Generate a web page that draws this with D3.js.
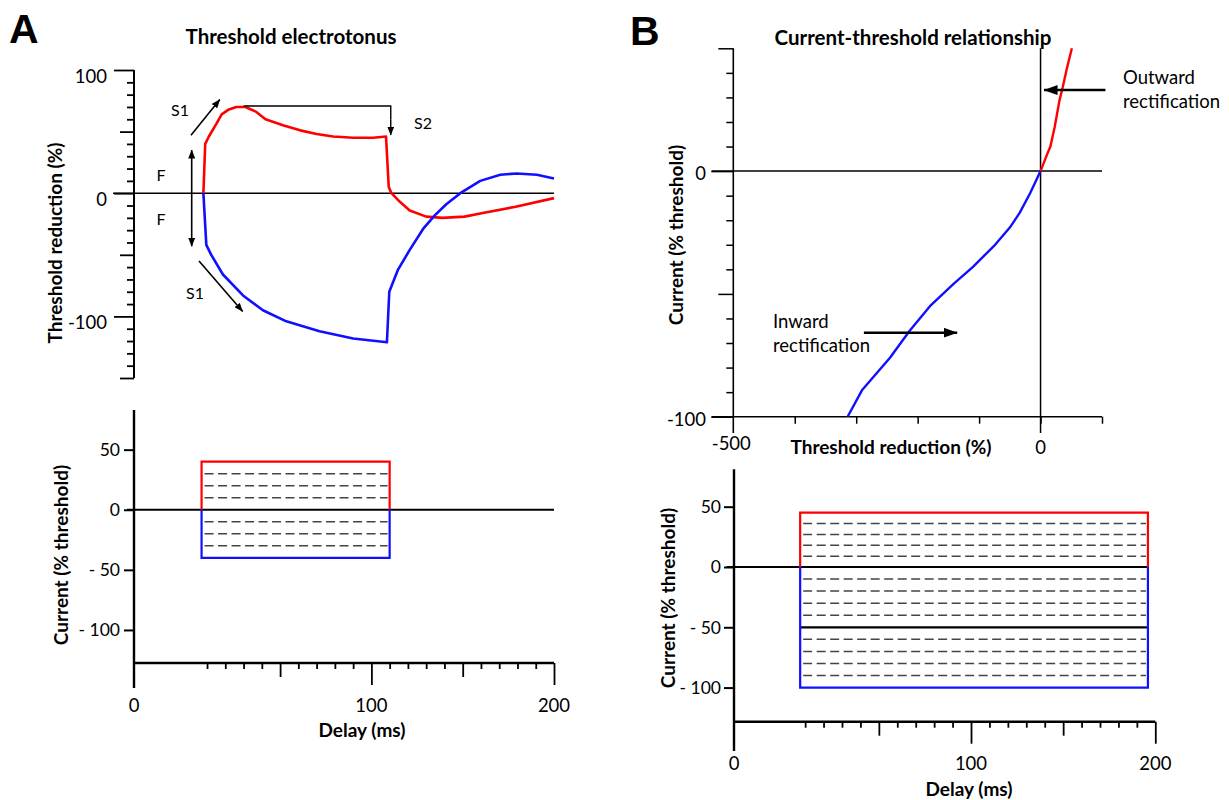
<!DOCTYPE html>
<html>
<head>
<meta charset="utf-8">
<script src="https://cdn.jsdelivr.net/npm/d3@7"></script>
<style>
  body { margin: 0; background: #fff; }
  text { font-family: Lato, "Open Sans", sans-serif; fill: #000; }
  .bold { font-weight: bold; }
</style>
</head>
<body>
<svg id="fig" width="1229" height="800"></svg>
<script>
// ---------- data ----------
// A: threshold electrotonus, [delay ms, threshold reduction %]
const teDepolarizing = [[8, 0], [9, 40], [11, 46], [15, 56], [18, 64], [22, 68], [26, 70], [31, 70],
  [37, 66], [42, 60], [52, 55], [61, 51], [70, 48], [79, 46], [90, 45], [101, 45], [108, 46],
  [109.5, 5], [111, 0], [115.6, -7], [121, -14], [130, -19], [139, -20], [151, -19], [161, -16],
  [179, -11], [200, -4]];
const teHyperpolarizing = [[8, 0], [9.6, -42], [12.3, -50], [18.7, -66], [29.7, -83], [40.6, -95],
  [53.4, -104], [71.6, -112], [90, -118], [108.5, -121], [109.8, -80], [114.6, -62], [121, -46],
  [128.3, -29], [134.7, -18], [141, -9], [148.7, 0], [159.6, 10], [170.6, 15], [179.6, 16],
  [190.6, 15], [200, 12]];
// A: conditioning currents (% threshold), pulse from 7 to 110 ms
const aPulse = [7, 110];
const aPulseTop = 40, aPulseBottom = -40;
const aDashed = [30, 20, 10, -10, -20, -30];
// B: current-threshold relationship, [threshold reduction %, current % threshold]
const iqOutward = [[0, 0], [11, 7], [16, 10], [23, 18], [31, 29], [36, 34], [43, 42], [51, 50]];
const iqInward = [[0, 0], [-17, -9], [-34, -17], [-50, -23], [-74, -30], [-110, -39], [-142, -46],
  [-180, -55], [-213, -65], [-245, -76], [-290, -89], [-314, -100]];
// B: stimulus currents, pulse from 7 to 196 ms
const bPulse = [7.3, 196];
const bPulseTop = 45, bPulseBottom = -100;
const bDashed = [36, 27, 18, 9, -10, -20, -30, -40, -60, -70, -80, -90];
const bSolid = [-50];
// ticks
const delayTicks = d3.range(10, 201, 10);
const delayLabels = [["0", "origin"], ["100", 100], ["200", 200]];
const teTicks = d3.range(-150, 101, 10);
const teLabels = [100, 0, -100];
const currentTicks = [50, 0, -50, -100];
const currentLabels = ["50", "0", "- 50", "- 100"];
const iqYTicks = d3.range(-100, 51, 10);
const iqYLabels = [0, -100];
const iqXTicks = [-400, -300, -200, -100, 0, 100];

const RED = "#ff0000", BLUE = "#1010ff";
const TICK = 18.5, AXIS = 19, NOTE = 16;

const svg = d3.select("#fig");
const defs = svg.append("defs");
function marker(id, len, wid) {
  defs.append("marker").attr("id", id)
    .attr("markerUnits", "userSpaceOnUse")
    .attr("viewBox", `0 0 ${len} ${wid}`)
    .attr("markerWidth", len).attr("markerHeight", wid)
    .attr("refX", len - 0.5).attr("refY", wid / 2)
    .attr("orient", "auto")
    .append("path").attr("d", `M0,0L${len},${wid / 2}L0,${wid}Z`).attr("fill", "#000");
}
marker("head", 9, 7);
marker("headBig", 14, 10);

function arrow(x1, y1, x2, y2, w, head) {
  svg.append("line").attr("x1", x1).attr("y1", y1).attr("x2", x2).attr("y2", y2)
    .attr("stroke", "#000").attr("stroke-width", w).attr("marker-end", `url(#${head})`);
}
function hline(x1, x2, y, w, dash) {
  svg.append("line").attr("x1", x1).attr("x2", x2).attr("y1", y).attr("y2", y)
    .attr("stroke", dash ? "#444" : "#000").attr("stroke-width", w)
    .attr("stroke-dasharray", dash || null);
}
function vline(x, y1, y2, w) {
  svg.append("line").attr("x1", x).attr("x2", x).attr("y1", y1).attr("y2", y2)
    .attr("stroke", "#000").attr("stroke-width", w);
}
function label(x, y, t, size, anchor, bold, rotate) {
  const el = svg.append("text").attr("x", x).attr("y", y).text(t)
    .attr("font-size", size).attr("text-anchor", anchor || "start")
    .attr("class", bold ? "bold" : null);
  if (rotate) el.attr("transform", `rotate(-90,${x},${y})`);
  return el;
}
// axis with ticks of varying length, drawn with d3.axis
function axis(orient, scale, pos, ticks, lenFn, w) {
  const ax = (orient === "left" ? d3.axisLeft(scale) : d3.axisBottom(scale))
    .tickValues(ticks).tickFormat("").tickSizeOuter(0);
  const g = svg.append("g")
    .attr("transform", orient === "left" ? `translate(${pos},0)` : `translate(0,${pos})`)
    .call(ax);
  g.select(".domain").remove();
  g.selectAll(".tick line").attr("stroke", "#000").attr("stroke-width", w)
    .attr(orient === "left" ? "x2" : "y2", d => (orient === "left" ? -1 : 1) * lenFn(d));
  return g;
}

// panel letters and titles
label(9, 43, "A", 41, "start", true).style("font-family", "'Liberation Sans', Arial, sans-serif");
label(630, 45, "B", 41, "start", true).style("font-family", "'Liberation Sans', Arial, sans-serif");
label(291, 44, "Threshold electrotonus", 20.5, "middle", true);
label(913, 45, "Current-threshold relationship", 20.5, "middle", true);

// ---------- A top: threshold electrotonus ----------
const xA = d3.scaleLinear().domain([-30, 200]).range([134, 554]);
const yTE = d3.scaleLinear().domain([-150, 100]).range([378, 70]);
vline(xA(-30), yTE(100), yTE(-150), 2);
axis("left", yTE, xA(-30), teTicks, d => d % 100 === 0 ? 20 : d % 50 === 0 ? 14 : 7, 1.8);
teLabels.forEach(v => label(107, yTE(v) + 13, v, TICK, "end"));
hline(113, xA(200), yTE(0), 1.6);
label(62, 243, "Threshold reduction (%)", AXIS, "middle", true, true);

const lineTE = d3.line().x(d => xA(d[0])).y(d => yTE(d[1]));
svg.append("path").datum(teDepolarizing).attr("d", lineTE)
  .attr("fill", "none").attr("stroke", RED).attr("stroke-width", 2.6).attr("stroke-linejoin", "round");
svg.append("path").datum(teHyperpolarizing).attr("d", lineTE)
  .attr("fill", "none").attr("stroke", BLUE).attr("stroke-width", 2.6).attr("stroke-linejoin", "round");

// annotations
arrow(xA(1.2), yTE(47), xA(17), yTE(76), 1.6, "head");
label(180, 116, "S1", NOTE, "middle");
svg.append("polyline")
  .attr("points", [[xA(30), yTE(70.8)], [xA(110.6), yTE(70.8)], [xA(110.6), yTE(60)]].join(" "))
  .attr("fill", "none").attr("stroke", "#000").attr("stroke-width", 1.4);
arrow(xA(110.6), yTE(60), xA(110.6), yTE(47.2), 1.4, "head");
label(423, 129, "S2", NOTE, "middle");
arrow(xA(1.6), yTE(0), xA(1.6), yTE(35), 1.6, "head");
arrow(xA(1.6), yTE(0), xA(1.6), yTE(-43), 1.6, "head");
label(161, 181, "F", NOTE, "middle");
label(161, 225, "F", NOTE, "middle");
arrow(xA(5.6), yTE(-55), xA(29.5), yTE(-96), 1.6, "head");
label(195, 299, "S1", NOTE, "middle");

// ---------- A bottom: conditioning currents ----------
const yIA = d3.scaleLinear().domain([-127.5, 83]).range([663, 410]);
vline(xA(-30), yIA(83), 688, 2.4);
hline(xA(-30), xA(200), yIA(-127.5), 2.4);
axis("left", yIA, xA(-30), currentTicks, () => 10, 2);
axis("bottom", xA, yIA(-127.5), delayTicks, d => d % 100 === 0 ? 22 : d % 50 === 0 ? 14 : 6, 1.8);
currentTicks.forEach((v, i) => label(120, yIA(v) + 6.5, currentLabels[i], 17.5, "end"));
delayLabels.forEach(([t, v]) => label(v === "origin" ? xA(-30) : xA(v), 712, t, TICK, "middle"));
label(362, 737, "Delay (ms)", AXIS, "middle", true);
label(68, 555, "Current (% threshold)", AXIS, "middle", true, true);

aDashed.forEach(v => hline(xA(aPulse[0]) + 3, xA(aPulse[1]) - 2, yIA(v), 1.5, "9,4.5"));
hline(127, xA(200), yIA(0), 2.2);
svg.append("polyline")
  .attr("points", [[xA(aPulse[0]), yIA(0)], [xA(aPulse[0]), yIA(aPulseTop)],
    [xA(aPulse[1]), yIA(aPulseTop)], [xA(aPulse[1]), yIA(0)]].join(" "))
  .attr("fill", "none").attr("stroke", RED).attr("stroke-width", 2.2);
svg.append("polyline")
  .attr("points", [[xA(aPulse[0]), yIA(0)], [xA(aPulse[0]), yIA(aPulseBottom)],
    [xA(aPulse[1]), yIA(aPulseBottom)], [xA(aPulse[1]), yIA(0)]].join(" "))
  .attr("fill", "none").attr("stroke", BLUE).attr("stroke-width", 2.2);

// ---------- B top: current-threshold relationship ----------
const xIQ = d3.scaleLinear().domain([-500, 100]).range([733.3, 1102]);
const yIQ = d3.scaleLinear().domain([-100, 50]).range([416.7, 48.3]);
vline(xIQ(-500), yIQ(50), 433, 1.6);
axis("left", yIQ, xIQ(-500), iqYTicks, d => d % 100 === 0 ? 22 : d % 50 === 0 ? 15 : 7, 1.5);
axis("bottom", xIQ, yIQ(-100), iqXTicks, () => 7, 1.5);
hline(711.7, xIQ(100), yIQ(-100), 1.6);
hline(711.7, xIQ(100), yIQ(0), 1.5);
vline(xIQ(0), yIQ(50), 433, 1.5);
iqYLabels.forEach(v => label(706, yIQ(v) + 9, v, TICK, "end"));
label(xIQ(-500) - 2, 450, "-500", TICK, "middle");
label(xIQ(0), 454, "0", TICK, "middle");
label(891, 454, "Threshold reduction (%)", AXIS, "middle", true);
label(683, 235, "Current (% threshold)", AXIS, "middle", true, true);

const lineIQ = d3.line().x(d => xIQ(d[0])).y(d => yIQ(d[1]));
svg.append("path").datum(iqOutward).attr("d", lineIQ)
  .attr("fill", "none").attr("stroke", RED).attr("stroke-width", 2.4);
svg.append("path").datum(iqInward).attr("d", lineIQ)
  .attr("fill", "none").attr("stroke", BLUE).attr("stroke-width", 2.4).attr("stroke-linejoin", "round");

arrow(xIQ(105.6), yIQ(33), xIQ(5.7), yIQ(33), 2.6, "headBig");
label(1123, 84, "Outward", 18.5);
label(1123, 108, "rectification", 18.5);
arrow(xIQ(-287.5), yIQ(-65.8), xIQ(-135.7), yIQ(-65.8), 2.6, "headBig");
label(773, 328, "Inward", 18.5);
label(773, 352, "rectification", 18.5);

// ---------- B bottom: stimulus currents ----------
const xB = d3.scaleLinear().domain([-28.6, 200]).range([734, 1155.3]);
const yIB = d3.scaleLinear().domain([-128.3, 81]).range([721.7, 469.3]);
vline(xB(-28.6), yIB(81), 751, 2.4);
hline(xB(-28.6), xB(200), yIB(-128.3), 2.4);
axis("left", yIB, xB(-28.6), currentTicks, () => 10, 2);
axis("bottom", xB, yIB(-128.3), delayTicks, d => d % 100 === 0 ? 22 : d % 50 === 0 ? 14 : 6, 1.8);
currentTicks.forEach((v, i) => label(721, yIB(v) + 6.5, currentLabels[i], 17.5, "end"));
delayLabels.forEach(([t, v]) => label(v === "origin" ? xB(-28.6) : xB(v), 770, t, TICK, "middle"));
label(969, 796, "Delay (ms)", AXIS, "middle", true);
label(675, 598, "Current (% threshold)", AXIS, "middle", true, true);

bDashed.forEach(v => hline(xB(bPulse[0]) + 3, xB(bPulse[1]) - 2, yIB(v), 1.5, "9,4.5"));
bSolid.forEach(v => hline(xB(bPulse[0]), xB(bPulse[1]), yIB(v), 2.2));
hline(726.7, xB(bPulse[1]), yIB(0), 2.2);
svg.append("polyline")
  .attr("points", [[xB(bPulse[0]), yIB(0)], [xB(bPulse[0]), yIB(bPulseTop)],
    [xB(bPulse[1]), yIB(bPulseTop)], [xB(bPulse[1]), yIB(0)]].join(" "))
  .attr("fill", "none").attr("stroke", RED).attr("stroke-width", 2.2);
svg.append("polyline")
  .attr("points", [[xB(bPulse[0]), yIB(0)], [xB(bPulse[0]), yIB(bPulseBottom)],
    [xB(bPulse[1]), yIB(bPulseBottom)], [xB(bPulse[1]), yIB(0)]].join(" "))
  .attr("fill", "none").attr("stroke", BLUE).attr("stroke-width", 2.2);
</script>
</body>
</html>
